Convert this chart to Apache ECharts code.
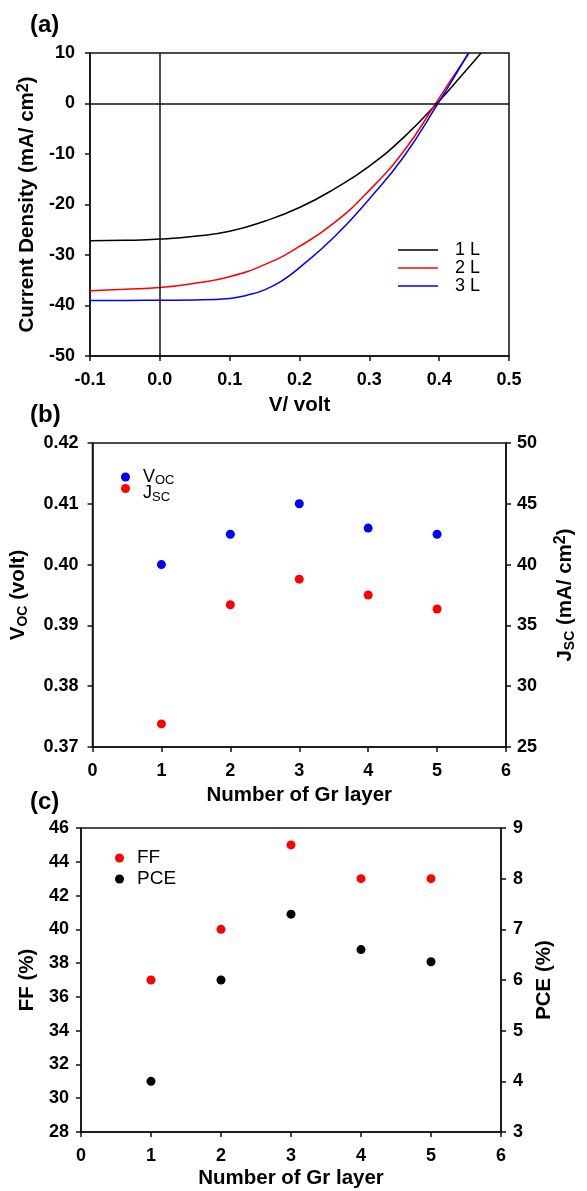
<!DOCTYPE html>
<html>
<head>
<meta charset="utf-8">
<script src="https://cdn.jsdelivr.net/npm/echarts@6/dist/echarts.min.js"></script>
<style>html,body{margin:0;padding:0;background:#fff}#c{width:587px;height:1191px}</style>
</head>
<body>
<div id="c"></div>
<script>
// ---------- data ----------
const v1L = [-0.1,-0.05,0,0.05,0.1,0.15,0.2,0.25,0.3,0.35,0.4,0.43,0.46];
const j1L = [-27.2,-27.1,-26.85,-26.3,-25.3,-23.3,-20.6,-16.9,-12.4,-6.6,0.5,5.2,10];
const v2L = [-0.1,-0.05,0,0.05,0.1,0.15,0.2,0.25,0.3,0.35,0.395,0.42,0.443];
const j2L = [-37.1,-36.8,-36.45,-35.6,-34.3,-31.9,-28.3,-23.6,-17.2,-9.3,0,5.3,10];
const v3L = [-0.1,-0.05,0,0.05,0.1,0.125,0.15,0.175,0.2,0.25,0.3,0.35,0.4,0.42,0.442];
const j3L = [-39,-39,-38.95,-38.9,-38.6,-37.95,-36.9,-35.1,-32.5,-26.4,-18.9,-10.4,0.4,4.9,10];

const layers = [1,2,3,4,5];
const voc = [0.400,0.405,0.410,0.406,0.405];
const jsc = [26.9,36.7,38.8,37.5,36.35];
const ff  = [37,40,45,43,43];
const pce = [4.0,6.0,7.3,6.6,6.36];

const curveNames = ['1 L','2 L','3 L'];

// ---------- helpers ----------
const FONT = 'Liberation Sans';
const BLK = '#111';
function pairs(xs, ys){ return xs.map((x,i)=>[x, ys[i]]); }
function axisLine(){ return {show:true, onZero:false, lineStyle:{color:BLK, width:1.5}}; }
function axisTick(){ return {show:true, inside:false, length:5, lineStyle:{color:BLK, width:1.5}}; }
function lbl(margin, fmt){ return {show:true, margin:margin, color:'#000', fontFamily:FONT, fontWeight:'bold', fontSize:18, formatter:fmt}; }
function nameStyle(extra){ return Object.assign({color:'#000', fontFamily:FONT, fontWeight:'bold', fontSize:20.5}, extra||{}); }
const richSub = {
  t:{fontFamily:FONT, fontWeight:'bold', fontSize:20.5, color:'#000', lineHeight:24},
  s:{fontFamily:FONT, fontWeight:'bold', fontSize:14, color:'#000', lineHeight:24, verticalAlign:'bottom'},
  p:{fontFamily:FONT, fontWeight:'bold', fontSize:16, color:'#000', lineHeight:24, verticalAlign:'top'}
};
const gridBox = {show:true, borderColor:BLK, borderWidth:1.5, backgroundColor:'transparent'};
const legRich = {
  m:{fontFamily:FONT, fontSize:18, color:'#000', lineHeight:20},
  s:{fontFamily:FONT, fontSize:13, color:'#000', lineHeight:20, verticalAlign:'bottom'}
};

const chart = echarts.init(document.getElementById('c'), null, {renderer:'canvas'});
chart.setOption({
  animation:false,
  backgroundColor:'#fff',
  title:[
    {text:'(a)', left:25, top:8, textStyle:{fontFamily:FONT, fontWeight:'bold', fontSize:24, color:'#000'}},
    {text:'(b)', left:25, top:398, textStyle:{fontFamily:FONT, fontWeight:'bold', fontSize:24, color:'#000'}},
    {text:'(c)', left:25, top:785, textStyle:{fontFamily:FONT, fontWeight:'bold', fontSize:24, color:'#000'}}
  ],
  grid:[
    Object.assign({left:90, top:53, width:419, height:303}, gridBox),
    Object.assign({left:87, top:443, width:419, height:304}, gridBox),
    Object.assign({left:81, top:828, width:420, height:304}, gridBox)
  ],
  legend:[
    {orient:'vertical', left:393, top:236, itemWidth:40, itemHeight:1.5, itemGap:0, icon:'rect', data:curveNames,
     textStyle:{fontFamily:FONT, fontSize:18, color:'#000', padding:[0,0,0,12], lineHeight:17}},
    {left:116, top:463, itemWidth:9, itemHeight:9, data:['Voc'],
     formatter:()=>'{m|V}{s|OC}',
     textStyle:{padding:[0,0,0,8], rich:legRich}},
    {left:116, top:479, itemWidth:9, itemHeight:9, data:['Jsc'],
     formatter:()=>'{m|J}{s|SC}',
     textStyle:{padding:[10,0,0,8], rich:legRich}},
    {left:110, top:843, itemWidth:9, itemHeight:9, data:['FF'],
     textStyle:{fontFamily:FONT, fontSize:19, color:'#000', padding:[0,0,0,8], lineHeight:20}},
    {left:110, top:858, itemWidth:9, itemHeight:9, data:['PCE'],
     textStyle:{fontFamily:FONT, fontSize:19, color:'#000', padding:[12,0,0,8], lineHeight:20}}
  ],
  xAxis:[
    {gridIndex:0, type:'value', min:-0.1, max:0.5, interval:0.1, axisLine:axisLine(), axisTick:axisTick(), splitLine:{show:false},
     axisLabel:lbl(15, v=>v.toFixed(1)),
     name:'V/ volt', nameLocation:'middle', nameGap:39, nameTextStyle:nameStyle()},
    {gridIndex:1, type:'value', min:0, max:6, interval:1, axisLine:axisLine(), axisTick:axisTick(), splitLine:{show:false},
     axisLabel:lbl(15, v=>String(v)),
     name:'Number of Gr layer', nameLocation:'middle', nameGap:38, nameTextStyle:nameStyle()},
    {gridIndex:2, type:'value', min:0, max:6, interval:1, axisLine:axisLine(), axisTick:axisTick(), splitLine:{show:false},
     axisLabel:lbl(15, v=>String(v)),
     name:'Number of Gr layer', nameLocation:'middle', nameGap:36, nameTextStyle:nameStyle()}
  ],
  yAxis:[
    {gridIndex:0, type:'value', min:-50, max:10, interval:10, axisLine:axisLine(), axisTick:axisTick(), splitLine:{show:false},
     axisLabel:lbl(15, v=>String(v)),
     name:'{t|Current Density (mA/ cm}{p|2}{t|)}', nameLocation:'middle', nameGap:46, nameRotate:90,
     nameTextStyle:nameStyle({rich:richSub})},
    {gridIndex:1, type:'value', position:'left', min:0.37, max:0.42, interval:0.01, axisLine:axisLine(), axisTick:axisTick(), splitLine:{show:false},
     axisLabel:lbl(14, v=>v.toFixed(2)),
     name:'{t|V}{s|OC}{t| (volt)}', nameLocation:'middle', nameGap:62, nameRotate:90,
     nameTextStyle:nameStyle({rich:richSub})},
    {gridIndex:1, type:'value', position:'right', min:25, max:50, interval:5, axisLine:axisLine(), axisTick:axisTick(), splitLine:{show:false},
     axisLabel:lbl(11, v=>String(v)),
     name:'{t|J}{s|SC}{t| (mA/ cm}{p|2}{t|)}', nameLocation:'middle', nameGap:47, nameRotate:90,
     nameTextStyle:nameStyle({rich:richSub})},
    {gridIndex:2, type:'value', position:'left', min:28, max:46, interval:2, axisLine:axisLine(), axisTick:axisTick(), splitLine:{show:false},
     axisLabel:lbl(12, v=>String(v)),
     name:'FF (%)', nameLocation:'middle', nameGap:40, nameRotate:90, nameTextStyle:nameStyle()},
    {gridIndex:2, type:'value', position:'right', min:3, max:9, interval:1, axisLine:axisLine(), axisTick:axisTick(), splitLine:{show:false},
     axisLabel:lbl(12, v=>String(v)),
     name:'PCE (%)', nameLocation:'middle', nameGap:28, nameRotate:90, nameTextStyle:nameStyle()}
  ],
  series:[
    {name:'1 L', type:'line', xAxisIndex:0, yAxisIndex:0, data:pairs(v1L,j1L), smooth:0.5, symbol:'none',
     lineStyle:{color:'#000', width:1.5}, itemStyle:{color:'#000'},
     markLine:{silent:true, symbol:'none', label:{show:false}, lineStyle:{color:BLK, width:1.5, type:'solid'},
       data:[{yAxis:0},{xAxis:0}], animation:false}, z:3},
    {name:'2 L', type:'line', xAxisIndex:0, yAxisIndex:0, data:pairs(v2L,j2L), smooth:0.5, symbol:'none',
     lineStyle:{color:'#ff0000', width:1.5}, itemStyle:{color:'#ff0000'}, z:3},
    {name:'3 L', type:'line', xAxisIndex:0, yAxisIndex:0, data:pairs(v3L,j3L), smooth:0.5, symbol:'none',
     lineStyle:{color:'#0000ff', width:1.5}, itemStyle:{color:'#0000ff'}, z:3},
    {name:'Voc', type:'scatter', xAxisIndex:1, yAxisIndex:1, data:pairs(layers,voc), symbol:'circle', symbolSize:9, itemStyle:{color:'#0000ff', opacity:1}},
    {name:'Jsc', type:'scatter', xAxisIndex:1, yAxisIndex:2, data:pairs(layers,jsc), symbol:'circle', symbolSize:9, itemStyle:{color:'#ff0000', opacity:1}},
    {name:'FF', type:'scatter', xAxisIndex:2, yAxisIndex:3, data:pairs(layers,ff), symbol:'circle', symbolSize:9, itemStyle:{color:'#ff0000', opacity:1}},
    {name:'PCE', type:'scatter', xAxisIndex:2, yAxisIndex:4, data:pairs(layers,pce), symbol:'circle', symbolSize:9, itemStyle:{color:'#000', opacity:1}}
  ]
});
</script>
</body>
</html>
